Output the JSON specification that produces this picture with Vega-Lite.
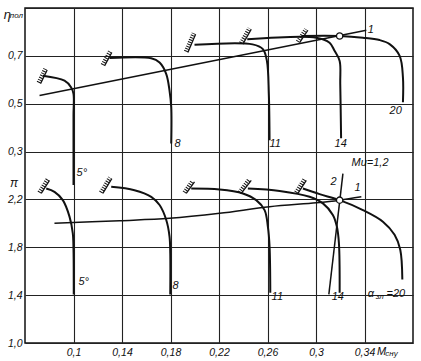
{
  "$schema": "https://vega.github.io/schema/vega-lite/v6.json",
  "width": 388,
  "height": 335,
  "autosize": {"type": "none"},
  "padding": {"left": 25, "top": 8, "right": 8, "bottom": 18},
  "background": "white",
  "config": {
    "view": {"stroke": "#111", "strokeWidth": 1.5},
    "axis": {"labelFont": "Liberation Sans", "labelFontStyle": "italic", "labelFontSize": 10.5, "labelColor": "#111", "ticks": false, "domain": false},
    "text": {"font": "Liberation Sans", "fontStyle": "italic", "fontSize": 11, "color": "#111"}
  },
  "datasets": {
    "etaCurves": [
      {"c": "5", "i": 0, "M": 0.0747, "v": 0.617}, {"c": "5", "i": 1, "M": 0.0926, "v": 0.596}, {"c": "5", "i": 2, "M": 0.0981, "v": 0.568}, {"c": "5", "i": 3, "M": 0.1, "v": 0.541}, {"c": "5", "i": 4, "M": 0.1, "v": 0.45}, {"c": "5", "i": 5, "M": 0.1, "v": 0.16},
      {"c": "8", "i": 0, "M": 0.1297, "v": 0.691}, {"c": "8", "i": 1, "M": 0.1641, "v": 0.690}, {"c": "8", "i": 2, "M": 0.1710, "v": 0.672}, {"c": "8", "i": 3, "M": 0.1765, "v": 0.624}, {"c": "8", "i": 4, "M": 0.1792, "v": 0.555}, {"c": "8", "i": 5, "M": 0.1806, "v": 0.485}, {"c": "8", "i": 6, "M": 0.1806, "v": 0.334},
      {"c": "11", "i": 0, "M": 0.1998, "v": 0.746}, {"c": "11", "i": 1, "M": 0.2477, "v": 0.748}, {"c": "11", "i": 2, "M": 0.2562, "v": 0.728}, {"c": "11", "i": 3, "M": 0.2595, "v": 0.679}, {"c": "11", "i": 4, "M": 0.2611, "v": 0.541}, {"c": "11", "i": 5, "M": 0.2617, "v": 0.347},
      {"c": "14", "i": 0, "M": 0.2433, "v": 0.769}, {"c": "14", "i": 1, "M": 0.3002, "v": 0.776}, {"c": "14", "i": 2, "M": 0.3112, "v": 0.755}, {"c": "14", "i": 3, "M": 0.3153, "v": 0.721}, {"c": "14", "i": 4, "M": 0.3195, "v": 0.679}, {"c": "14", "i": 5, "M": 0.3200, "v": 0.583}, {"c": "14", "i": 6, "M": 0.3207, "v": 0.356},
      {"c": "20", "i": 0, "M": 0.2881, "v": 0.783}, {"c": "20", "i": 1, "M": 0.3195, "v": 0.783}, {"c": "20", "i": 2, "M": 0.3387, "v": 0.776}, {"c": "20", "i": 3, "M": 0.3525, "v": 0.766}, {"c": "20", "i": 4, "M": 0.3607, "v": 0.749}, {"c": "20", "i": 5, "M": 0.3690, "v": 0.700}, {"c": "20", "i": 6, "M": 0.3717, "v": 0.610}, {"c": "20", "i": 7, "M": 0.3717, "v": 0.506}
    ],
    "etaRef": [
      {"c": "1", "i": 0, "M": 0.0720, "v": 0.534}, {"c": "1", "i": 1, "M": 0.3415, "v": 0.807}
    ],
    "etaHatch": [
      {"c": "5", "i": 0, "M": 0.0728, "v": 0.584}, {"c": "5", "i": 1, "M": 0.0783, "v": 0.641},
      {"c": "8", "i": 0, "M": 0.1256, "v": 0.658}, {"c": "8", "i": 1, "M": 0.1316, "v": 0.714},
      {"c": "11", "i": 0, "M": 0.1943, "v": 0.714}, {"c": "11", "i": 1, "M": 0.2007, "v": 0.790},
      {"c": "14", "i": 0, "M": 0.2397, "v": 0.749}, {"c": "14", "i": 1, "M": 0.2466, "v": 0.811},
      {"c": "20", "i": 0, "M": 0.2865, "v": 0.755}, {"c": "20", "i": 1, "M": 0.2933, "v": 0.807}
    ],
    "etaPoint": [{"M": 0.3195, "v": 0.783}],
    "etaLabels": [
      {"M": 0.1025, "v": 0.212, "t": "5°"},
      {"M": 0.1833, "v": 0.331, "t": "8"},
      {"M": 0.2617, "v": 0.331, "t": "11"},
      {"M": 0.3153, "v": 0.331, "t": "14"},
      {"M": 0.3607, "v": 0.468, "t": "20"},
      {"M": 0.3426, "v": 0.810, "t": "1"}
    ],
    "piCurves": [
      {"c": "5", "i": 0, "M": 0.0775, "v": 2.291}, {"c": "5", "i": 1, "M": 0.0843, "v": 2.263}, {"c": "5", "i": 2, "M": 0.0912, "v": 2.194}, {"c": "5", "i": 3, "M": 0.0967, "v": 2.056}, {"c": "5", "i": 4, "M": 0.0994, "v": 1.918}, {"c": "5", "i": 5, "M": 0.1, "v": 1.779}, {"c": "5", "i": 6, "M": 0.1002, "v": 1.406},
      {"c": "8", "i": 0, "M": 0.1311, "v": 2.305}, {"c": "8", "i": 1, "M": 0.1503, "v": 2.277}, {"c": "8", "i": 2, "M": 0.1641, "v": 2.222}, {"c": "8", "i": 3, "M": 0.1710, "v": 2.153}, {"c": "8", "i": 4, "M": 0.1765, "v": 2.028}, {"c": "8", "i": 5, "M": 0.1792, "v": 1.890}, {"c": "8", "i": 6, "M": 0.1798, "v": 1.752}, {"c": "8", "i": 7, "M": 0.1798, "v": 1.406},
      {"c": "11", "i": 0, "M": 0.1971, "v": 2.291}, {"c": "11", "i": 1, "M": 0.2205, "v": 2.283}, {"c": "11", "i": 2, "M": 0.2397, "v": 2.250}, {"c": "11", "i": 3, "M": 0.2507, "v": 2.194}, {"c": "11", "i": 4, "M": 0.2576, "v": 2.111}, {"c": "11", "i": 5, "M": 0.2603, "v": 1.973}, {"c": "11", "i": 6, "M": 0.2617, "v": 1.807}, {"c": "11", "i": 7, "M": 0.2623, "v": 1.420},
      {"c": "14", "i": 0, "M": 0.2438, "v": 2.291}, {"c": "14", "i": 1, "M": 0.2700, "v": 2.271}, {"c": "14", "i": 2, "M": 0.2947, "v": 2.222}, {"c": "14", "i": 3, "M": 0.3057, "v": 2.167}, {"c": "14", "i": 4, "M": 0.3139, "v": 2.070}, {"c": "14", "i": 5, "M": 0.3172, "v": 1.973}, {"c": "14", "i": 6, "M": 0.3189, "v": 1.835}, {"c": "14", "i": 7, "M": 0.3195, "v": 1.420},
      {"c": "20", "i": 0, "M": 0.2892, "v": 2.291}, {"c": "20", "i": 1, "M": 0.3030, "v": 2.244}, {"c": "20", "i": 2, "M": 0.3195, "v": 2.194}, {"c": "20", "i": 3, "M": 0.3387, "v": 2.111}, {"c": "20", "i": 4, "M": 0.3552, "v": 2.014}, {"c": "20", "i": 5, "M": 0.3648, "v": 1.904}, {"c": "20", "i": 6, "M": 0.3695, "v": 1.779}, {"c": "20", "i": 7, "M": 0.3712, "v": 1.530}
    ],
    "piRef": [
      {"c": "1", "i": 0, "M": 0.0843, "v": 2.001}, {"c": "1", "i": 1, "M": 0.1380, "v": 2.022}, {"c": "1", "i": 2, "M": 0.1792, "v": 2.042}, {"c": "1", "i": 3, "M": 0.2205, "v": 2.084}, {"c": "1", "i": 4, "M": 0.2617, "v": 2.139}, {"c": "1", "i": 5, "M": 0.3002, "v": 2.172}, {"c": "1", "i": 6, "M": 0.3195, "v": 2.194}, {"c": "1", "i": 7, "M": 0.3374, "v": 2.222},
      {"c": "2", "i": 0, "M": 0.3222, "v": 2.416}, {"c": "2", "i": 1, "M": 0.3106, "v": 1.406}
    ],
    "piHatch": [
      {"c": "5", "i": 0, "M": 0.0734, "v": 2.250}, {"c": "5", "i": 1, "M": 0.0802, "v": 2.360},
      {"c": "8", "i": 0, "M": 0.1242, "v": 2.250}, {"c": "8", "i": 1, "M": 0.1316, "v": 2.374},
      {"c": "11", "i": 0, "M": 0.1930, "v": 2.250}, {"c": "11", "i": 1, "M": 0.1998, "v": 2.346},
      {"c": "14", "i": 0, "M": 0.2384, "v": 2.250}, {"c": "14", "i": 1, "M": 0.2466, "v": 2.360},
      {"c": "20", "i": 0, "M": 0.2851, "v": 2.250}, {"c": "20", "i": 1, "M": 0.2920, "v": 2.360}
    ],
    "piPoint": [{"M": 0.3195, "v": 2.194}],
    "piLabels": [
      {"M": 0.1041, "v": 1.509, "t": "5°"},
      {"M": 0.1817, "v": 1.480, "t": "8"},
      {"M": 0.2634, "v": 1.383, "t": "11"},
      {"M": 0.3129, "v": 1.383, "t": "14"},
      {"M": 0.3120, "v": 2.344, "t": "2"},
      {"M": 0.3318, "v": 2.298, "t": "1"},
      {"M": 0.3293, "v": 2.501, "t": "Mu=1,2"},
      {"M": 0.3426, "v": 1.406, "t": "α"},
      {"M": 0.3582, "v": 1.406, "t": "=20"}
    ],
    "piSub": [
      {"M": 0.3492, "v": 1.385, "t": "зл"}
    ]
  },
  "layer": [
    {
      "layer": [
        {
          "data": {"name": "etaCurves"},
          "mark": {"type": "line", "interpolate": "catmull-rom", "color": "#111", "strokeWidth": 2},
          "encoding": {
            "x": {"field": "M", "type": "quantitative", "title": null, "scale": {"domain": [0.06, 0.38], "nice": false, "zero": false},
                  "axis": {"values": [0.1, 0.14, 0.18, 0.22, 0.26, 0.3, 0.34], "grid": true, "gridColor": "#222", "gridWidth": 1.1, "labelPadding": 4,
                           "labelExpr": "replace(format(datum.value, '.2~f'), '.', ',')"}},
            "y": {"field": "v", "type": "quantitative", "title": null, "scale": {"domain": [-0.5, 0.9], "nice": false, "zero": false},
                  "axis": {"orient": "left", "values": [-0.5, -0.3, -0.1, 0.1, 0.3, 0.5, 0.7, 0.9], "grid": true, "gridColor": "#222", "gridWidth": 1.1, "labelPadding": 3,
                           "labelExpr": "datum.value > 0.2 && datum.value < 0.8 ? replace(format(datum.value, '.1f'), '.', ',') : ''"}},
            "detail": {"field": "c"},
            "order": {"field": "i"}
          }
        },
        {
          "data": {"name": "etaRef"},
          "mark": {"type": "line", "color": "#111", "strokeWidth": 1.5},
          "encoding": {
            "x": {"field": "M", "type": "quantitative", "title": null},
            "y": {"field": "v", "type": "quantitative", "title": null},
            "detail": {"field": "c"},
            "order": {"field": "i"}
          }
        },
        {
          "data": {"name": "etaHatch"},
          "mark": {"type": "line", "color": "#111", "strokeWidth": 1.3},
          "encoding": {
            "x": {"field": "M", "type": "quantitative", "title": null},
            "y": {"field": "v", "type": "quantitative", "title": null},
            "detail": {"field": "c"},
            "order": {"field": "i"}
          }
        },
        {
          "data": {"name": "etaHatch"},
          "mark": {"type": "line", "color": "#111", "strokeWidth": 4, "strokeDash": [1, 1.4], "xOffset": -2, "yOffset": -1},
          "encoding": {
            "x": {"field": "M", "type": "quantitative", "title": null},
            "y": {"field": "v", "type": "quantitative", "title": null},
            "detail": {"field": "c"},
            "order": {"field": "i"}
          }
        },
        {
          "data": {"name": "etaPoint"},
          "mark": {"type": "point", "filled": true, "fill": "white", "stroke": "#111", "strokeWidth": 1.3, "size": 40, "opacity": 1},
          "encoding": {
            "x": {"field": "M", "type": "quantitative", "title": null},
            "y": {"field": "v", "type": "quantitative", "title": null}
          }
        },
        {
          "data": {"name": "etaLabels"},
          "mark": {"type": "text", "align": "left", "baseline": "middle"},
          "encoding": {
            "x": {"field": "M", "type": "quantitative", "title": null},
            "y": {"field": "v", "type": "quantitative", "title": null},
            "text": {"field": "t"}
          }
        },
        {
          "data": {"values": [{"M": 0.06, "v": 0.871, "t": "η"}]},
          "mark": {"type": "text", "align": "right", "baseline": "middle", "dx": -14, "fontSize": 13},
          "encoding": {
            "x": {"field": "M", "type": "quantitative", "title": null},
            "y": {"field": "v", "type": "quantitative", "title": null},
            "text": {"field": "t"}
          }
        },
        {
          "data": {"values": [{"M": 0.06, "v": 0.866, "t": "пол"}]},
          "mark": {"type": "text", "align": "right", "baseline": "middle", "dx": -2, "fontSize": 8},
          "encoding": {
            "x": {"field": "M", "type": "quantitative", "title": null},
            "y": {"field": "v", "type": "quantitative", "title": null},
            "text": {"field": "t"}
          }
        },
        {
          "data": {"values": [{"M": 0.3503, "v": -0.5, "t": "M"}]},
          "mark": {"type": "text", "align": "left", "baseline": "middle", "dy": 9, "fontSize": 11},
          "encoding": {
            "x": {"field": "M", "type": "quantitative", "title": null},
            "y": {"field": "v", "type": "quantitative", "title": null},
            "text": {"field": "t"}
          }
        },
        {
          "data": {"values": [{"M": 0.3572, "v": -0.5, "t": "сну"}]},
          "mark": {"type": "text", "align": "left", "baseline": "middle", "dy": 11, "fontSize": 8},
          "encoding": {
            "x": {"field": "M", "type": "quantitative", "title": null},
            "y": {"field": "v", "type": "quantitative", "title": null},
            "text": {"field": "t"}
          }
        }
      ]
    },
    {
      "layer": [
        {
          "data": {"name": "piCurves"},
          "mark": {"type": "line", "interpolate": "catmull-rom", "color": "#111", "strokeWidth": 2},
          "encoding": {
            "x": {"field": "M", "type": "quantitative", "title": null},
            "y": {"field": "v", "type": "quantitative", "title": null, "scale": {"domain": [1.0, 3.8], "nice": false, "zero": false},
                  "axis": {"orient": "left", "values": [1.0, 1.4, 1.8, 2.2], "grid": false, "labelPadding": 3,
                           "labelExpr": "replace(format(datum.value, '.1f'), '.', ',')"}},
            "detail": {"field": "c"},
            "order": {"field": "i"}
          }
        },
        {
          "data": {"name": "piRef"},
          "mark": {"type": "line", "interpolate": "catmull-rom", "color": "#111", "strokeWidth": 1.5},
          "encoding": {
            "x": {"field": "M", "type": "quantitative", "title": null},
            "y": {"field": "v", "type": "quantitative", "title": null},
            "detail": {"field": "c"},
            "order": {"field": "i"}
          }
        },
        {
          "data": {"name": "piHatch"},
          "mark": {"type": "line", "color": "#111", "strokeWidth": 1.3},
          "encoding": {
            "x": {"field": "M", "type": "quantitative", "title": null},
            "y": {"field": "v", "type": "quantitative", "title": null},
            "detail": {"field": "c"},
            "order": {"field": "i"}
          }
        },
        {
          "data": {"name": "piHatch"},
          "mark": {"type": "line", "color": "#111", "strokeWidth": 4, "strokeDash": [1, 1.4], "xOffset": -2, "yOffset": -1},
          "encoding": {
            "x": {"field": "M", "type": "quantitative", "title": null},
            "y": {"field": "v", "type": "quantitative", "title": null},
            "detail": {"field": "c"},
            "order": {"field": "i"}
          }
        },
        {
          "data": {"name": "piPoint"},
          "mark": {"type": "point", "filled": true, "fill": "white", "stroke": "#111", "strokeWidth": 1.3, "size": 40, "opacity": 1},
          "encoding": {
            "x": {"field": "M", "type": "quantitative", "title": null},
            "y": {"field": "v", "type": "quantitative", "title": null}
          }
        },
        {
          "data": {"name": "piLabels"},
          "mark": {"type": "text", "align": "left", "baseline": "middle"},
          "encoding": {
            "x": {"field": "M", "type": "quantitative", "title": null},
            "y": {"field": "v", "type": "quantitative", "title": null},
            "text": {"field": "t"}
          }
        },
        {
          "data": {"name": "piSub"},
          "mark": {"type": "text", "align": "left", "baseline": "middle", "fontSize": 8},
          "encoding": {
            "x": {"field": "M", "type": "quantitative", "title": null},
            "y": {"field": "v", "type": "quantitative", "title": null},
            "text": {"field": "t"}
          }
        },
        {
          "data": {"values": [{"M": 0.06, "v": 2.341, "t": "π"}]},
          "mark": {"type": "text", "align": "right", "baseline": "middle", "dx": -7, "fontSize": 12},
          "encoding": {
            "x": {"field": "M", "type": "quantitative", "title": null},
            "y": {"field": "v", "type": "quantitative", "title": null},
            "text": {"field": "t"}
          }
        }
      ]
    }
  ],
  "resolve": {"scale": {"y": "independent"}, "axis": {"y": "independent"}}
}
